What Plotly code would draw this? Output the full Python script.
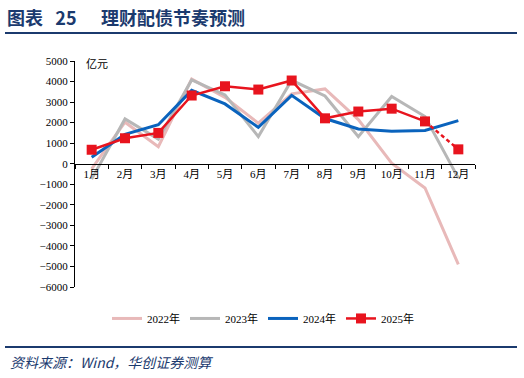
import plotly.graph_objects as go

months = ["1月", "2月", "3月", "4月", "5月", "6月", "7月", "8月", "9月", "10月", "11月", "12月"]
y2022 = [-250, 2020, 830, 4120, 3230, 1970, 3400, 3640, 2150, 30, -1180, -4900]
y2023 = [-750, 2180, 1200, 4080, 3350, 1320, 4060, 3300, 1320, 3270, 2300, -700]
y2024 = [320, 1430, 1900, 3570, 2910, 1770, 3330, 2200, 1690, 1580, 1620, 2100]
y2025 = [680, 1240, 1500, 3320, 3770, 3610, 4050, 2210, 2540, 2680, 2060, 700]
n_actual_2025 = 11  # 1-11月 actual, 12月 forecast (dashed)

PINK = "#E8B9B9"
GRAY = "#B7B7B7"
BLUE = "#0A63BD"
RED = "#E8141E"
NAVY = "#1B3A6E"

SERIF = "Liberation Serif, Times New Roman, Noto Sans CJK SC, serif"

fig = go.Figure()
fig.add_trace(go.Scatter(x=months, y=y2022, mode="lines", name="2022年",
                         line=dict(color=PINK, width=3)))
fig.add_trace(go.Scatter(x=months, y=y2023, mode="lines", name="2023年",
                         line=dict(color=GRAY, width=3)))
fig.add_trace(go.Scatter(x=months, y=y2024, mode="lines", name="2024年",
                         line=dict(color=BLUE, width=3)))
fig.add_trace(go.Scatter(x=months[n_actual_2025 - 1:], y=y2025[n_actual_2025 - 1:],
                         mode="lines", name="2025年预测", showlegend=False,
                         line=dict(color=RED, width=2.5, dash="4px,3px")))
fig.add_trace(go.Scatter(x=months[n_actual_2025:], y=y2025[n_actual_2025:],
                         mode="markers", name="2025年预测点", showlegend=False,
                         marker=dict(symbol="square", size=10, color=RED, opacity=1,
                                     line=dict(width=0))))
fig.add_trace(go.Scatter(x=months[:n_actual_2025], y=y2025[:n_actual_2025],
                         mode="lines+markers", name="2025年",
                         line=dict(color=RED, width=2.5),
                         marker=dict(symbol="square", size=10, color=RED)))

ymin, ymax = -6000, 5000
fig.update_layout(
    width=524, height=378,
    margin=dict(l=75, r=49, t=61, b=91, autoexpand=False),
    paper_bgcolor="white", plot_bgcolor="white",
    font=dict(family=SERIF, size=11, color="black"),
    showlegend=True,
    legend=dict(orientation="h", x=0.47, xanchor="center", y=-0.075, yanchor="top",
                font=dict(family=SERIF, size=11, color="black"),
                itemwidth=30, tracegroupgap=0, bgcolor="rgba(0,0,0,0)"),
    xaxis=dict(type="category", range=[-0.5, 11.5], anchor="free",
               position=(0 - ymin) / (ymax - ymin),
               showline=True, linecolor="black", linewidth=1,
               ticks="outside", ticklen=4, tickcolor="black", tickson="boundaries",
               showgrid=False, zeroline=False,
               tickfont=dict(family=SERIF, size=11, color="black")),
    yaxis=dict(range=[ymin, ymax], dtick=1000, tick0=0,
               showline=True, linecolor="black", linewidth=1,
               ticks="outside", ticklen=4, tickcolor="black",
               showgrid=False, zeroline=False,
               tickfont=dict(family=SERIF, size=11, color="black")),
)

# Title and header line
fig.add_annotation(xref="paper", yref="paper", x=-70 / 400, y=1 + (61 - 17) / 226,
                   xanchor="left", yanchor="middle", showarrow=False,
                   text="<b>图表&nbsp;&nbsp;&nbsp;25&nbsp;&nbsp;&nbsp;&nbsp;&nbsp;&nbsp;理财配债节奏预测</b>",
                   font=dict(family="Noto Sans CJK SC", size=18, color=NAVY))
fig.add_shape(type="line", xref="paper", yref="paper",
              x0=-70 / 400, x1=1 + 42 / 400, y0=1 + (61 - 33) / 226, y1=1 + (61 - 33) / 226,
              line=dict(color=NAVY, width=2))
# Footer line and source
fig.add_shape(type="line", xref="paper", yref="paper",
              x0=-70 / 400, x1=1 + 42 / 400, y0=-(347 - 287) / 226, y1=-(347 - 287) / 226,
              line=dict(color=NAVY, width=2))
fig.add_annotation(xref="paper", yref="paper", x=-67 / 400, y=-(362 - 287) / 226,
                   xanchor="left", yanchor="middle", showarrow=False,
                   text="<i>资料来源：Wind，华创证券测算</i>",
                   font=dict(family="Noto Sans CJK SC", size=14, color=NAVY))
# Unit label
fig.add_annotation(xref="paper", yref="paper", x=(97 - 75) / 400, y=1 - (63 - 61) / 226,
                   xanchor="center", yanchor="middle", showarrow=False,
                   text="亿元", font=dict(family="Noto Sans CJK SC", size=11, color="black"))

fig.write_html("out.html", config={"displayModeBar": False},
               post_script="document.body.style.margin='0';document.body.style.overflow='hidden';")
